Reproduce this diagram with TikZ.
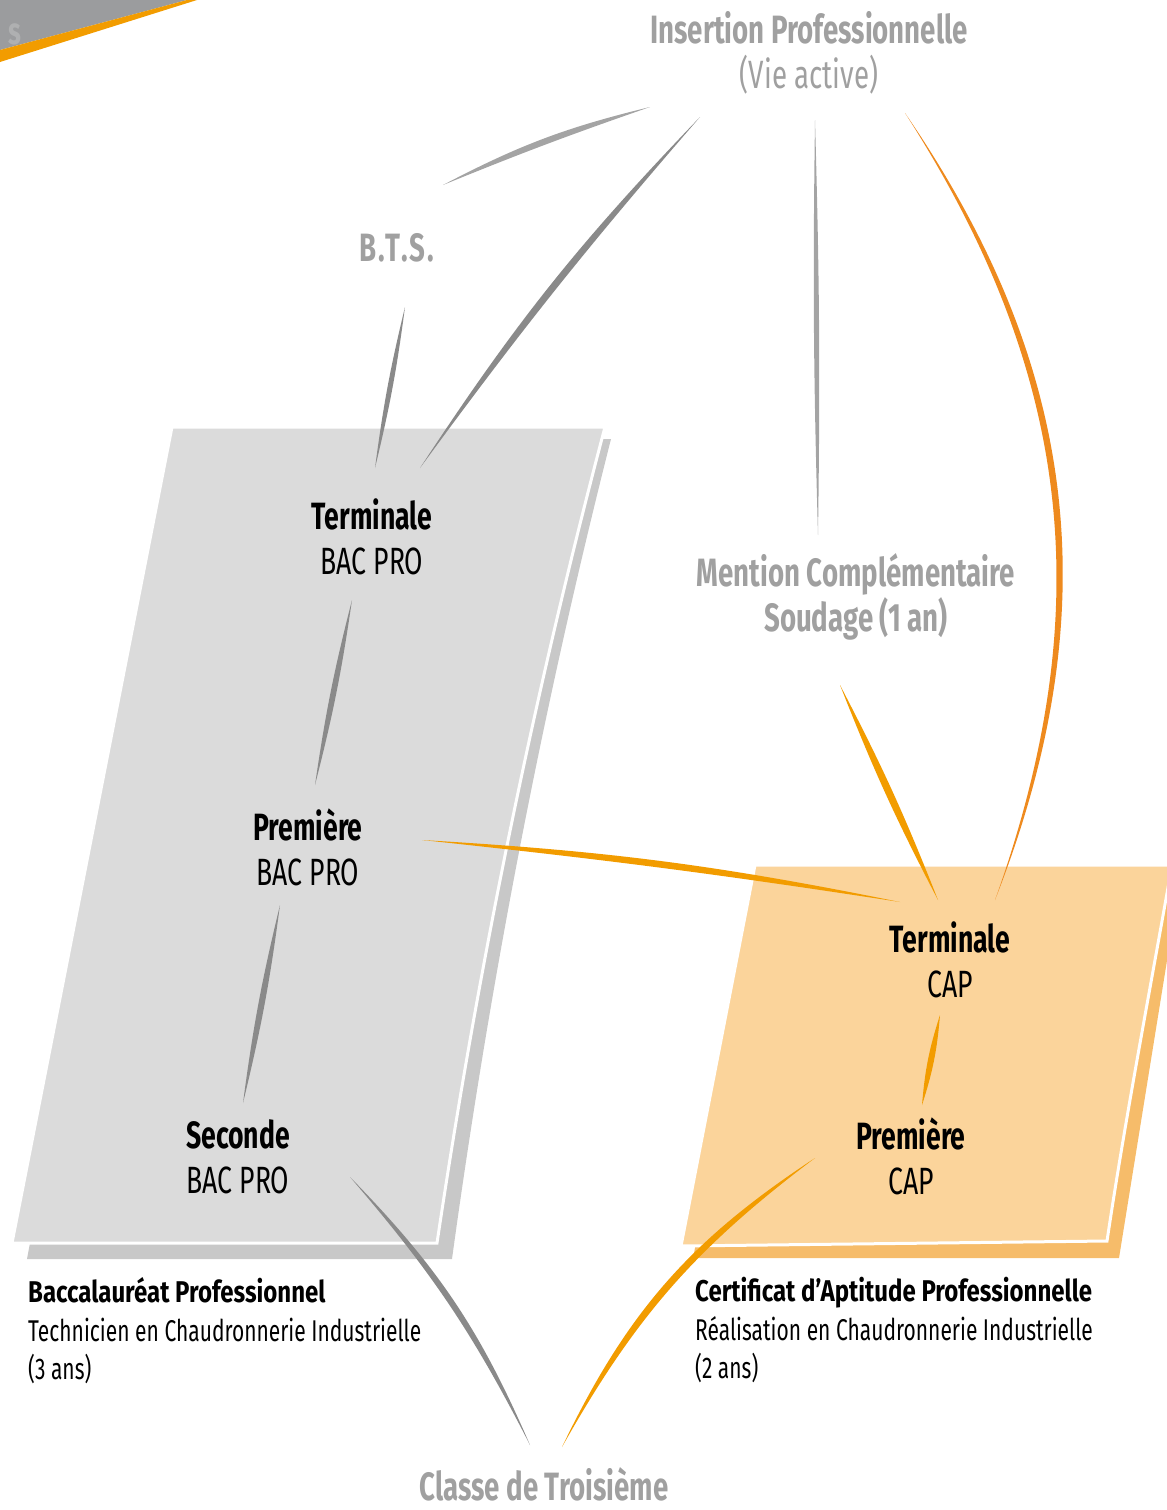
\documentclass[tikz,border=0pt]{standalone}
\usepackage{fontspec}
\setmainfont{Fira Sans}[FakeStretch=0.7]
\definecolor{panelgrey}{HTML}{DBDBDB}
\definecolor{shadowgrey}{HTML}{C8C8C8}
\definecolor{panelorange}{HTML}{FBD49B}
\definecolor{shadoworange}{HTML}{F6BC6A}
\definecolor{inkgrey}{HTML}{8A8A8A}
\definecolor{inklight}{HTML}{A4A4A4}
\definecolor{inkorange}{HTML}{F29C00}
\definecolor{inkdeep}{HTML}{EE8A1E}
\definecolor{titlegrey}{HTML}{A0A0A0}
\definecolor{cornergrey}{HTML}{9B9C9E}
\tikzset{
  level/.style={align=center, inner sep=0pt, font=\fontsize{38}{45}\selectfont},
  goal/.style={level, text=titlegrey, font=\fontsize{39.5}{45}\selectfont\bfseries},
  caption/.style={align=left, anchor=west, inner sep=0pt, font=\fontsize{30}{38.5}\selectfont},
}
\begin{document}
\begin{tikzpicture}[x=1pt, y=-1pt]
    \useasboundingbox (0,0) rectangle (1167,1510);
    \clip (0,0) rectangle (1167,1510);
    % corner
    \fill[cornergrey] (0,0) -- (187,0) -- (0,50) -- cycle;
    \begin{scope}
        \clip (0,0) -- (187,0) -- (0,50) -- cycle;
        \node[text=cornergrey!80!white, font=\fontsize{38}{45}\selectfont\bfseries, anchor=east] at (25,34) {s};
    \end{scope}
    \fill[inkorange] (187,0) -- (197,0) -- (0,62) -- (0,50) -- cycle;
    % panels
    \fill[shadowgrey] (180,439) -- (611,439) .. controls (542.6,708.8) and (490,981.8) .. (452,1259) -- (27,1259) -- cycle;
    \filldraw[fill=panelgrey, draw=white, line width=3pt] (172,427) -- (605,427) .. controls (533.6,696.5) and (478,968) .. (437,1243) -- (12,1243) -- cycle;
    \fill[shadoworange] (770,880) -- (1180,880) -- (1119,1258) -- (693,1258) -- cycle;
    \filldraw[fill=panelorange, draw=white, line width=3pt] (755,865) -- (1172,865) .. controls (1150,990) and (1125,1120) .. (1107,1241) -- (681,1246) -- cycle;
    % nodes
    \node[goal] (insertion) at (809,53) {Insertion Professionnelle\\\mdseries(Vie active)};
    \node[goal, font=\fontsize{39.5}{45}\selectfont\bfseries\addfontfeature{LetterSpace=5}] (bts) at (397,248) {B.T.S.};
    \node[goal] (mention) at (856,597) {Mention Complémentaire\\Soudage (1 an)};
    \node[level] (termbac) at (372,537) {\textbf{Terminale}\\BAC PRO};
    \node[level] (premierebac) at (308,847) {\textbf{Première}\\BAC PRO};
    \node[level] (secondebac) at (238,1157) {\textbf{Seconde}\\BAC PRO};
    \node[level] (termcap) at (950,960) {\textbf{Terminale}\\CAP};
    \node[level] (premierecap) at (911,1156) {\textbf{Première}\\CAP};
    \node[text=titlegrey, inner sep=0pt, font=\fontsize{39.5}{45}\selectfont\bfseries] (troisieme) at (544,1484) {Classe de Troisième};
    \node[caption] (bactitle) at (28,1331) {\textbf{\addfontfeature{FakeStretch=0.8}Baccalauréat Professionnel}\\Technicien en Chaudronnerie Industrielle\\(3 ans)};
    \node[caption] (captitle) at (695,1330) {\textbf{\addfontfeature{FakeStretch=0.8}Certificat d’Aptitude Professionnelle}\\Réalisation en Chaudronnerie Industrielle\\(2 ans)};
    % brush strokes
    \fill[inklight] ([shift={(46,-63)}]bts.center) to[bend left=7] ([shift={(-159,54)}]insertion.center) to[bend right=1.5] ([shift={(46,-63)}]bts.center);
    \fill[inkgrey] ([shift={(48,-69)}]termbac.center) to[bend left=5.3] ([shift={(-109,64)}]insertion.center) to[bend right=2.3] ([shift={(48,-69)}]termbac.center);
    \fill[inkgrey] ([shift={(8,59)}]bts.center) to[bend left=3] ([shift={(3,-69)}]termbac.center) to[bend left=3] ([shift={(8,59)}]bts.center);
    \fill[inklight] ([shift={(6,67)}]insertion.center) to[bend left=1.2] ([shift={(-38,-62)}]mention.center) to[bend left=1.2] ([shift={(6,67)}]insertion.center);
    \fill[inkdeep] ([shift={(96,60)}]insertion.center) to[bend left=28] ([shift={(45,-60)}]termcap.center) to[bend right=26.2] ([shift={(96,60)}]insertion.center);
    \fill[inkorange] ([shift={(-16,88)}]mention.center) to[bend left=3] ([shift={(-12,-60)}]termcap.center) to[bend left=3] ([shift={(-16,88)}]mention.center);
    \fill[inkorange] ([shift={(114,-7)}]premierebac.center) to[bend left=4] ([shift={(-50,-58)}]termcap.center) to[bend right=1.3] ([shift={(114,-7)}]premierebac.center);
    \fill[inkgrey] ([shift={(-20,63)}]termbac.center) to[bend left=3] ([shift={(7,-62)}]premierebac.center) to[bend left=3] ([shift={(-20,63)}]termbac.center);
    \fill[inkgrey] ([shift={(-28,58)}]premierebac.center) to[bend left=3] ([shift={(5,-54)}]secondebac.center) to[bend left=3] ([shift={(-28,58)}]premierebac.center);
    \fill[inkorange] ([shift={(-10,55)}]termcap.center) to[bend left=6.5] ([shift={(11,-51)}]premierecap.center) to[bend left=6.5] ([shift={(-10,55)}]termcap.center);
    \fill[inkgrey] ([shift={(-14,-39)}]troisieme.center) to[bend right=10.5] ([shift={(112,20)}]secondebac.center) to[bend left=6.8] ([shift={(-14,-39)}]troisieme.center);
    \fill[inkorange] ([shift={(18,-37)}]troisieme.center) to[bend left=15.5] ([shift={(-96,2)}]premierecap.center) to[bend right=11.8] ([shift={(18,-37)}]troisieme.center);
\end{tikzpicture}
\end{document}
